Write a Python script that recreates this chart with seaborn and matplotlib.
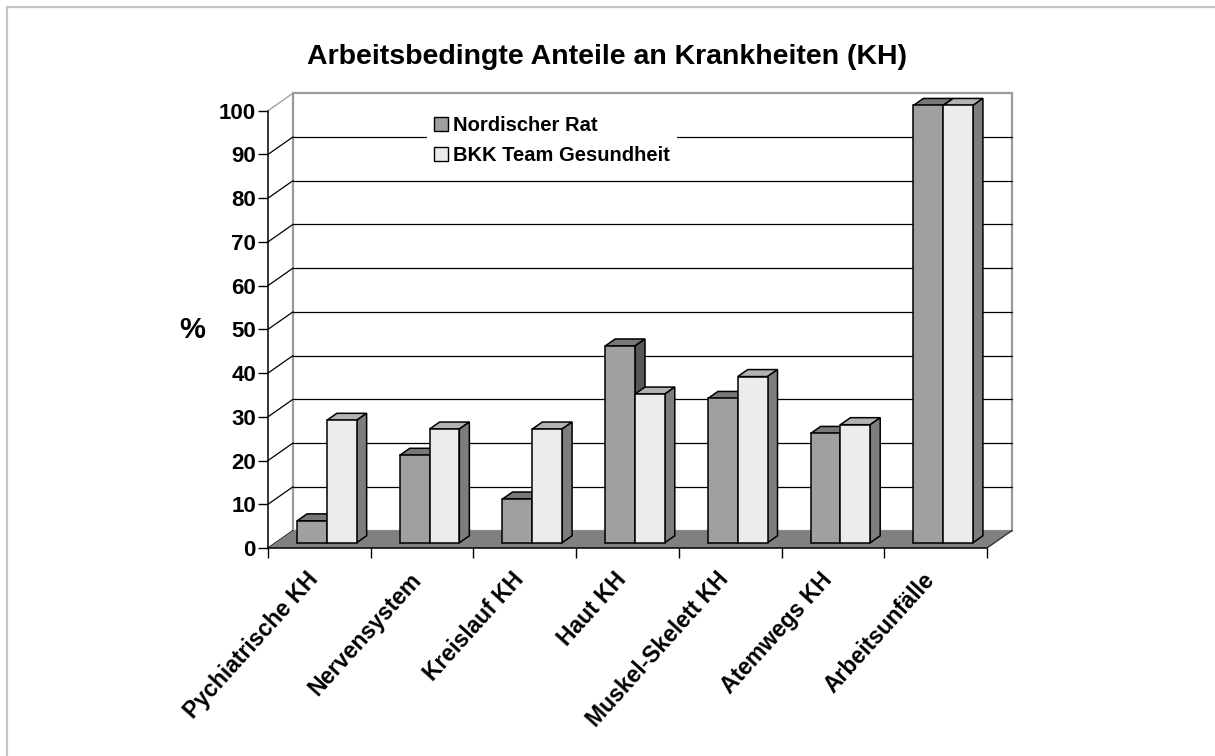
import numpy as np
import pandas as pd
import seaborn as sns
import matplotlib.pyplot as plt
from matplotlib.patches import Polygon, Patch
from matplotlib.lines import Line2D
from matplotlib.transforms import ScaledTranslation

categories = ["Pychiatrische KH", "Nervensystem", "Kreislauf KH", "Haut KH",
              "Muskel-Skelett KH", "Atemwegs KH", "Arbeitsunfälle"]
series_names = ["Nordischer Rat", "BKK Team Gesundheit"]
nordischer_rat = [5, 20, 10, 45, 33, 25, 100]
bkk_team = [28, 26, 26, 34, 38, 27, 100]
y_ticks = list(range(0, 101, 10))

df = pd.DataFrame({
    "Kategorie": categories * 2,
    "Reihe": [series_names[0]] * len(categories) + [series_names[1]] * len(categories),
    "Prozent": nordischer_rat + bkk_team,
})

sns.set_theme(style="white")
plt.rcParams["font.family"] = ["Liberation Sans", "DejaVu Sans"]

# colours of the 3d faces (front, top, side)
dark = ("#a0a0a0", "#787878", "#575757")
light = ("#ececec", "#b3b3b3", "#7d7d7d")

W, H = 1215, 756
fig = plt.figure(figsize=(W / 100, H / 100), dpi=100)
x_left, x_right, y_zero, y_top = 268, 987, 548, 110.7
ax = fig.add_axes([x_left / W, 1 - y_zero / H, (x_right - x_left) / W, (y_zero - y_top) / H])
ax.set_facecolor("none")

n = len(categories)
depth_px = (25, 17.5)
dx = depth_px[0] / ((x_right - x_left) / n)
dy = depth_px[1] / ((y_zero - y_top) / 100)
a, b = 0.3, 0.7  # depth range of the bars

sns.barplot(data=df, x="Kategorie", y="Prozent", hue="Reihe", order=categories,
            palette=[dark[0], light[0]], width=0.58, gap=0, saturation=1,
            edgecolor="black", linewidth=1.1, errorbar=None, legend=False, ax=ax)
ax.set_xlim(-0.5, n - 0.5)
ax.set_ylim(0, 100)
x0, x1 = -0.5, n - 0.5

# back wall, floor, side wall lines
ax.add_patch(Polygon([(x0 + dx, dy), (x1 + dx, dy), (x1 + dx, 100 + dy), (x0 + dx, 100 + dy)],
                     facecolor="white", edgecolor="#9a9a9a", lw=1.6, zorder=0.5, clip_on=False))
ax.add_patch(Polygon([(x0, 0), (x1, 0), (x1 + dx, dy), (x0 + dx, dy)],
                     facecolor="#808080", edgecolor="none", zorder=1, clip_on=False))
ax.plot([x1, x1 + dx], [0, dy], color="#333333", lw=1, zorder=1.1, clip_on=False)
for v in y_ticks[1:-1]:
    ax.plot([x0 + dx, x1 + dx], [v + dy, v + dy], color="black", lw=0.9, zorder=0.8, clip_on=False)
for v in y_ticks:
    ax.plot([x0, x0 + dx], [v, v + dy], color="#9a9a9a" if v == 100 else "black",
            lw=0.9, zorder=0.9, clip_on=False)

# 3d look for the seaborn bars
shift = ScaledTranslation(a * depth_px[0] / 100, a * depth_px[1] / 100, fig.dpi_scale_trans)
for k, (container, cols) in enumerate(zip(ax.containers, [dark, light])):
    for bar in container:
        bar.set_transform(ax.transData + shift)
        bar.set_zorder(3 + k)
        bar.set_clip_on(False)
        bx0 = bar.get_x()
        bx1 = bx0 + bar.get_width()
        h = bar.get_height()
        top = [(bx0 + a * dx, h + a * dy), (bx1 + a * dx, h + a * dy),
               (bx1 + b * dx, h + b * dy), (bx0 + b * dx, h + b * dy)]
        side = [(bx1 + a * dx, a * dy), (bx1 + a * dx, h + a * dy),
                (bx1 + b * dx, h + b * dy), (bx1 + b * dx, b * dy)]
        ax.add_patch(Polygon(top, facecolor=cols[1], edgecolor="black", lw=1.1,
                             zorder=3 + k - 0.01, clip_on=False))
        ax.add_patch(Polygon(side, facecolor=cols[2], edgecolor="black", lw=1.1,
                             zorder=3 + k - 0.01, clip_on=False))

# axes
for s in ["top", "right"]:
    ax.spines[s].set_visible(False)
for s in ["left", "bottom"]:
    ax.spines[s].set_color("black")
    ax.spines[s].set_linewidth(1.1)
    ax.spines[s].set_zorder(2)

ax.set_yticks(y_ticks)
ax.set_yticklabels([str(v) for v in y_ticks], fontsize=16, fontweight="bold", color="black")
ax.tick_params(axis="y", left=True, direction="out", length=7.2, width=1, color="black", pad=1.5)
ax.set_xticks(range(n))
ax.set_xticks(np.arange(-0.5, n, 1), minor=True)
ax.tick_params(axis="x", which="major", bottom=True, length=0, pad=20)
ax.tick_params(axis="x", which="minor", bottom=True, direction="out", length=7.2, width=1, color="black")
ax.set_xticklabels(categories, fontsize=16.5, fontweight="bold", color="black", rotation=48,
                   ha="right", va="center", rotation_mode="anchor")
nudge = ScaledTranslation(-0.05, 0, fig.dpi_scale_trans)
for lab in ax.get_xticklabels():
    lab.set_transform(lab.get_transform() + nudge)
ax.set_xlabel("")
ax.set_ylabel("%", rotation=0, fontsize=21, fontweight="bold", color="black", ha="center", va="center")
ax.yaxis.set_label_coords((192 - x_left) / (x_right - x_left), (y_zero - 330) / (y_zero - y_top))

handles = [Patch(facecolor=dark[0], edgecolor="black", lw=1, label=series_names[0]),
           Patch(facecolor=light[0], edgecolor="black", lw=1, label=series_names[1])]
leg = ax.legend(handles=handles, loc="upper left", bbox_to_anchor=(427 / W, 1 - 109 / H),
                bbox_transform=fig.transFigure, frameon=True, fancybox=False, framealpha=1,
                edgecolor="none", facecolor="white", prop={"weight": "bold", "size": 14.5},
                handlelength=0.7, handleheight=0.7, handletextpad=0.25, labelspacing=0.55,
                borderpad=0.35, borderaxespad=0)
for t in leg.get_texts():
    t.set_color("black")
leg.set_zorder(6)

fig.text(607 / W, 1 - 57 / H, "Arbeitsbedingte Anteile an Krankheiten (KH)",
         ha="center", va="center", fontsize=20.5, fontweight="bold", color="black")

# light grey frame of the chart area
fig.add_artist(Line2D([7 / W, 7 / W], [0, 1 - 7 / H], color="#c4c4c4", lw=1.6))
fig.add_artist(Line2D([7 / W, 1], [1 - 7 / H, 1 - 7 / H], color="#c4c4c4", lw=1.6))

fig.savefig("out.png", dpi=100)
